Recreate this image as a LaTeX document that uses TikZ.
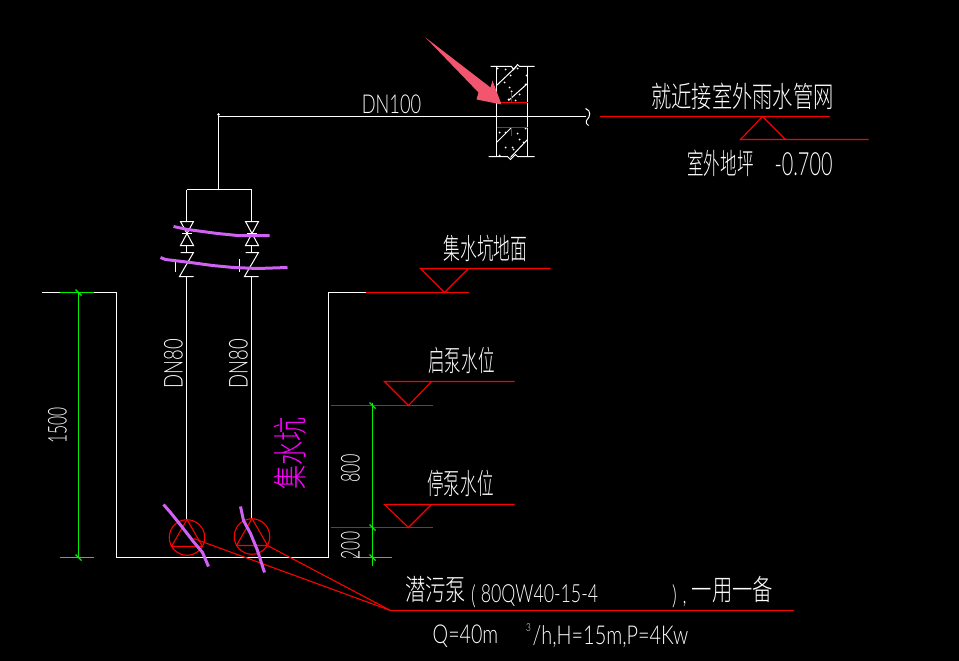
\documentclass[tikz,border=0pt]{standalone}
\usepackage{fontspec}
\setmainfont{Lato}[UprightFont=* Light]
\newfontfamily\cjk{Noto Sans CJK SC}[UprightFont=* Light]
\definecolor{pumpink}{HTML}{CF62F2}
\definecolor{arrowpink}{HTML}{F2566E}
\definecolor{sumpmagenta}{HTML}{FF00FF}
\definecolor{dimgreen}{HTML}{00F000}
\tikzset{
    pipeline/.style={draw=white, line width=1pt},
    markline/.style={draw=red, line width=1.1pt},
    dimline/.style={draw=dimgreen, line width=1.1pt},
    scrawl/.style={draw=pumpink, line width=3pt, line join=round},
    cadtext/.style={text=white, inner sep=0pt, font=\fontsize{26}{26}\selectfont, transform shape},
    cadcjk/.style={text=white, inner sep=0pt, font=\cjk\fontsize{29}{29}\selectfont, transform shape},
    cadnum/.style={cadtext, rotate=90}
}
\begin{document}
\begin{tikzpicture}[x=1pt, y=-1pt]
    \fill[black] (0,0) rectangle (959,661);
    \useasboundingbox (0,0) rectangle (959,661);
    \begin{scope}[shift={(0.5,0.5)}]

    % outlet pipe
    \coordinate (teeTop) at (218,116);
    \coordinate (pipeEnd) at (585,116);
    \coordinate (teeLow) at (218,189);
    \coordinate (riserA) at (186,189);
    \coordinate (riserB) at (251,189);
    \draw[pipeline] (pipeEnd) -- (teeTop) -- (teeLow);
    \draw[pipeline] (riserA) -- (riserB);
    \draw[pipeline] (585,108) .. controls (591,110) and (590,116) .. (586,120) .. controls (585,122) and (586,124) .. (588,125);
    \node[fill=white, circle, inner sep=0.9pt] (teeDot) at (218,114) {};

    % wall
    \draw[pipeline] (490,66) -- (511,66) -- (513,69) -- (517,64) -- (519,66) -- (534,66);
    \draw[pipeline] (488,156) -- (507,156) -- (510,159) -- (515,154) -- (517,156) -- (534,156);
    \draw[pipeline] (496,66) -- (496,156);
    \draw[pipeline] (527,66) -- (527,156);
    \draw[pipeline] (496,85) -- (516,66);
    \draw[pipeline] (508,100) -- (527,83);
    \draw[pipeline] (496,142) -- (511,127);
    \draw[pipeline] (510,157) -- (527,139);
    \foreach \dotx/\doty in {497/68, 505/69, 517/68, 510/75, 526/75, 504/82, 509/87, 511/91, 508/99, 515/100, 519/94, 525/84,
                             505/132, 517/133, 519/139, 512/147, 505/147, 499/155, 513/149, 523/142, 499/132, 525/128}
        \fill[white] (\dotx,\doty) circle (1pt);
    \draw[markline] (496,102) -- (527,102);
    \draw[markline] (496,127) -- (527,127);
    \draw[markline] (511,93) -- (511,102);
    \draw[markline] (511,127) -- (511,135);
    \fill[arrowpink] (425,37) -- (490,87) -- (492,80) -- (501,104) -- (476,99) -- (478,92) -- cycle;
    \node[cadtext, xscale=0.7] (labelPipe) at (391,104) {DN100};

    % outdoor level
    \draw[markline] (599,116) -- (829,116);
    \draw[markline] (868,139) -- (740,139) -- (762,116) -- (785,139);
    \node[cadcjk, xscale=0.7] (labelOutfall) at (742,96) {就近接室外雨水管网};
    \node[cadcjk, xscale=0.57] (labelGround) at (720,163) {室外地坪};
    \node[cadtext, xscale=0.62, font=\fontsize{32}{32}\selectfont] (labelElev) at (803,164) {-0.700};

    % pit
    \coordinate (pitTopL) at (41,292);
    \coordinate (pitWallL) at (116,292);
    \coordinate (pitFloorL) at (116,557);
    \coordinate (pitFloorR) at (328,557);
    \coordinate (pitWallR) at (328,292);
    \coordinate (pitTopR) at (365,292);
    \draw[pipeline] (pitTopL) -- (pitWallL) -- (pitFloorL) -- (pitFloorR) -- (pitWallR) -- (pitTopR);
    \draw[markline] (pitTopR) -- (468,292);
    \draw[markline] (550,268) -- (420,268) -- (444,292) -- (468,268);
    \node[cadcjk, xscale=0.58] (labelPit) at (485,248) {集水坑地面};

    % risers with valves
    \foreach \name/\rx/\tickx/\ry in {A/186/175/537, B/251/239/536} {
        \draw[pipeline] (\rx,189) -- (\rx,221);
        \draw[pipeline] (\rx-6,221) -- (\rx+7,221) -- (\rx-6,245) -- (\rx+7,245) -- cycle;
        \draw[pipeline] (\rx-5,233) -- (\rx+5,233);
        \draw[pipeline] (\rx,245) -- (\rx,252);
        \draw[pipeline] (\rx-6,252) -- (\rx+7,252) -- (\rx-7,276) -- (\rx+7,276);
        \draw[pipeline] (\rx,276) -- (\rx,\ry-18);
        \draw[pipeline] (\tickx,258) -- (\tickx,271);
        % pump
        \node[circle, draw=red, line width=1.1pt, minimum size=35.5pt, inner sep=0pt] (pump\name) at (\rx+0.5,\ry) {};
        \draw[markline] (\rx+0.5,\ry-18) -- (\rx+16,\ry+9) -- (\rx-15,\ry+9) -- cycle;
    }
    \coordinate (leaderEnd) at (390,610);
    \coordinate (leaderA) at (193,538);
    \coordinate (leaderB) at (267,545);
    \draw[markline] (leaderA) -- (leaderEnd);
    \draw[markline] (leaderB) -- (leaderEnd);
    \draw[markline] (leaderEnd) -- (793,610);
    \draw[scrawl] (173,226) -- (187,229) -- (217,233) -- (237,235) -- (269,235);
    \draw[scrawl] (160,257) -- (165,259) -- (190,262) -- (212,265) -- (233,267) -- (257,268) -- (287,267);
    \draw[scrawl] (163,504) -- (170,512) -- (182,527) -- (192,540) -- (202,552) -- (208,566);
    \draw[scrawl] (240,506) -- (243,520) -- (250,533) -- (257,550) -- (264,572);
    \node[cadnum, xscale=0.71] (labelRiserA) at (173,363) {DN80};
    \node[cadnum, xscale=0.71] (labelRiserB) at (238,363) {DN80};
    \node[text=sumpmagenta, inner sep=0pt, rotate=90, font=\cjk\fontsize{35}{35}\selectfont, xscale=0.69, transform shape] (labelSump) at (290,453) {集水坑};

    % water levels
    \draw[markline] (514,381) -- (384,381) -- (408,405) -- (431,381);
    \draw[markline] (330,405) -- (432,405);
    \draw[markline] (514,504) -- (384,504) -- (408,527) -- (431,504);
    \draw[markline] (330,527) -- (432,527);
    \node[cadcjk, xscale=0.57] (labelStart) at (461,360) {启泵水位};
    \node[cadcjk, xscale=0.57] (labelStop) at (460,483) {停泵水位};

    % dimensions
    \draw[dimline] (78,292) -- (78,557);
    \draw[dimline] (59,292) -- (93,292);
    \draw[dimline] (59,557) -- (93,557);
    \draw[dimline] (372,402) -- (372,565);
    \draw[dimline] (352,557) -- (391,557);
    \foreach \ticky in {405,527,557}
        \draw[dimline] (369,\ticky-3) -- (375,\ticky+3);
    \foreach \ticky in {292,557}
        \draw[dimline] (75,\ticky-3) -- (81,\ticky+3);
    \node[cadnum, xscale=0.6] (labelDepth) at (57,425) {1500};
    \node[cadnum, xscale=0.62] (labelStartDim) at (350,468) {800};
    \node[cadnum, xscale=0.6] (labelStopDim) at (350,545) {200};

    % pump note
    \node[cadcjk, xscale=0.7] (labelPump) at (435,589) {潜污泵};
    \node[cadtext, xscale=0.7] (labelOpen) at (473,596) {(};
    \node[cadtext, xscale=0.71, font=\fontsize{25}{25}\selectfont] (labelModel) at (539,595) {80QW40-15-4};
    \node[cadtext, xscale=0.7] (labelClose) at (674,596) {)};
    \node[cadtext, xscale=0.7] (labelComma) at (684,604) {,};
    \node[cadcjk, xscale=0.7] (labelDuty) at (732,589) {一用一备};
    \node[cadtext, xscale=0.756] (labelFlow) at (465,636) {Q=40m};
    \node[cadtext, xscale=0.75, font=\fontsize{11}{11}\selectfont] (labelCube) at (528,627) {3};
    \node[cadtext, xscale=0.765] (labelHead) at (610,636) {/h,H=15m,P=4Kw};
    \end{scope}
\end{tikzpicture}
\end{document}
